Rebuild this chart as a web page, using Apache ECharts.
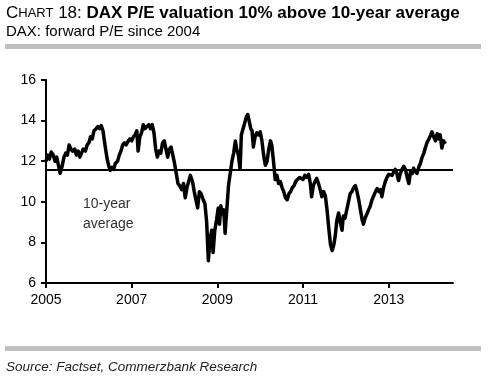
<!DOCTYPE html>
<html>
<head>
<meta charset="utf-8">
<script src="https://cdn.jsdelivr.net/npm/echarts@6/dist/echarts.min.js"></script>
<style>
  html, body { margin: 0; padding: 0; background: #fff; }
  #main { width: 488px; height: 376px; }
</style>
</head>
<body>
<div id="main"></div>
<script>
// decimal years and forward P/E
var years = [
  2005.00, 2005.04, 2005.08, 2005.12, 2005.17, 2005.21, 2005.25, 2005.29, 2005.33, 2005.37,
  2005.42, 2005.46, 2005.50, 2005.54, 2005.58, 2005.62, 2005.67, 2005.71, 2005.75, 2005.79,
  2005.83, 2005.87, 2005.92, 2005.96, 2006.00, 2006.04, 2006.08, 2006.12, 2006.17, 2006.21,
  2006.25, 2006.29, 2006.33, 2006.37, 2006.42, 2006.46, 2006.50, 2006.54, 2006.58, 2006.62,
  2006.67, 2006.71, 2006.75, 2006.79, 2006.83, 2006.87, 2006.92, 2006.96, 2007.00, 2007.04,
  2007.08, 2007.12, 2007.15, 2007.19, 2007.23, 2007.27, 2007.31, 2007.35, 2007.40, 2007.44,
  2007.48, 2007.52, 2007.56, 2007.60, 2007.64, 2007.68, 2007.72, 2007.76, 2007.80, 2007.84,
  2007.88, 2007.92, 2007.96, 2008.00, 2008.04, 2008.08, 2008.12, 2008.17, 2008.21, 2008.25,
  2008.29, 2008.33, 2008.37, 2008.42, 2008.46, 2008.50, 2008.54, 2008.58, 2008.62, 2008.67,
  2008.71, 2008.75, 2008.79, 2008.83, 2008.87, 2008.90, 2008.94, 2008.98, 2009.02, 2009.05,
  2009.08, 2009.12, 2009.15, 2009.18, 2009.22, 2009.26, 2009.30, 2009.34, 2009.38, 2009.42,
  2009.45, 2009.49, 2009.53, 2009.56, 2009.60, 2009.64, 2009.68, 2009.71, 2009.74, 2009.78,
  2009.81, 2009.84, 2009.88, 2009.92, 2009.96, 2010.00, 2010.04, 2010.08, 2010.12, 2010.16,
  2010.20, 2010.24, 2010.27, 2010.31, 2010.35, 2010.39, 2010.43, 2010.47, 2010.51, 2010.55,
  2010.59, 2010.63, 2010.67, 2010.71, 2010.75, 2010.79, 2010.83, 2010.87, 2010.92, 2010.96,
  2011.00, 2011.04, 2011.08, 2011.13, 2011.17, 2011.20, 2011.24, 2011.28, 2011.32, 2011.36,
  2011.40, 2011.44, 2011.48, 2011.52, 2011.56, 2011.60, 2011.64, 2011.68, 2011.72, 2011.75,
  2011.79, 2011.83, 2011.87, 2011.91, 2011.94, 2011.98, 2012.02, 2012.06, 2012.10, 2012.14,
  2012.18, 2012.22, 2012.26, 2012.30, 2012.34, 2012.38, 2012.41, 2012.45, 2012.49, 2012.53,
  2012.57, 2012.61, 2012.65, 2012.69, 2012.73, 2012.77, 2012.81, 2012.84, 2012.88, 2012.92,
  2012.96, 2013.00, 2013.04, 2013.08, 2013.12, 2013.15, 2013.19, 2013.23, 2013.27, 2013.31,
  2013.35, 2013.39, 2013.43, 2013.47, 2013.51, 2013.55, 2013.58, 2013.62, 2013.66, 2013.70,
  2013.74, 2013.78, 2013.82, 2013.86, 2013.90, 2013.94, 2013.98, 2014.01, 2014.05, 2014.09,
  2014.13, 2014.16, 2014.20, 2014.24, 2014.28, 2014.32
];
var pe = [
  12.0, 12.3, 12.1, 12.45, 12.3, 12.0, 12.2, 11.8, 11.4, 11.7,
  12.2, 12.4, 12.3, 12.8, 12.6, 12.5, 12.6, 12.3, 12.5, 12.2,
  12.4, 12.6, 12.5, 12.8, 12.9, 13.2, 13.1, 13.5, 13.6, 13.7,
  13.6, 13.75, 13.5, 12.9, 12.2, 11.8, 11.55, 11.7, 11.6, 11.9,
  12.0, 12.3, 12.5, 12.8, 12.9, 12.8, 13.0, 13.1, 13.0, 13.2,
  13.3, 13.5, 12.5, 13.2, 13.4, 13.8, 13.6, 13.7, 13.8, 13.6,
  13.8, 13.4, 12.6, 12.2, 12.5, 12.4, 12.9, 13.0, 12.6, 12.2,
  12.6, 12.7, 12.3, 11.9, 11.4, 10.9, 10.8, 10.6, 10.9, 10.2,
  10.7, 11.0, 11.3, 11.0, 10.5, 10.1, 9.7, 10.5, 10.4, 10.1,
  9.9, 9.0, 7.1, 8.2, 8.6, 7.5, 8.6, 9.1, 9.7, 8.9,
  9.8, 9.4, 9.6, 8.45, 9.6, 10.8, 11.4, 12.0, 12.4, 13.0,
  12.6, 12.3, 11.6, 13.3, 13.6, 13.9, 14.2, 14.3, 14.0, 13.6,
  13.5, 12.7, 13.2, 13.4, 13.3, 13.45, 13.0, 12.3, 11.8, 12.0,
  12.6, 13.0, 12.8, 12.0, 11.1, 11.3, 10.9, 11.0, 10.7, 10.5,
  10.2, 10.1, 10.4, 10.5, 10.7, 10.8, 11.0, 11.1, 11.2, 11.25,
  11.1, 11.3, 11.2, 11.35, 10.9, 10.25, 10.8, 11.0, 11.15, 10.9,
  10.6, 10.25, 10.5, 10.3, 9.6, 8.7, 7.9, 7.6, 7.9, 8.3,
  9.1, 9.45, 9.0, 8.6, 9.3, 9.2, 9.6, 10.0, 10.4, 10.5,
  10.7, 10.8, 10.5, 10.1, 9.6, 9.1, 8.9, 9.2, 9.4, 9.6,
  9.8, 10.1, 10.3, 10.5, 10.65, 10.5, 10.6, 10.25, 10.7, 11.0,
  11.2, 11.35, 11.4, 11.3, 11.5, 11.6, 11.4, 11.05, 11.4, 11.6,
  11.75, 11.6, 11.2, 10.9, 11.5, 11.4, 11.65, 11.5, 11.4, 11.7,
  11.9, 12.2, 12.4, 12.7, 12.95, 13.1, 13.3, 13.45, 13.2, 13.0,
  13.35, 13.1, 13.3, 12.65, 13.0, 12.85
];
var tenYearAvg = 11.6;
var xTicks = [2005, 2007, 2009, 2011, 2013];

var chart = echarts.init(document.getElementById('main'), null, { renderer: 'canvas' });

var font = 'Arial, "Liberation Sans", sans-serif';

var option = {
  animation: false,
  textStyle: { fontFamily: font },
  title: [{
    left: 6,
    top: 5,
    padding: 0,
    text: '{c|C}{s|HART}{c| 18: }{b|DAX P/E valuation 10% above 10-year average}',
    textStyle: {
      rich: {
        c: { fontSize: 17, fontWeight: 'normal', color: '#000', fontFamily: font },
        s: { fontSize: 13, fontWeight: 'normal', color: '#000', fontFamily: font },
        b: { fontSize: 17, fontWeight: 'bold', color: '#000', fontFamily: font }
      }
    }
  }, {
    left: 6,
    top: 24,
    padding: 0,
    text: 'DAX: forward P/E since 2004',
    textStyle: { fontSize: 15, fontWeight: 'normal', color: '#000', fontFamily: font }
  }, {
    left: 6,
    top: 360,
    padding: 0,
    text: 'Source: Factset, Commerzbank Research',
    textStyle: { fontSize: 13.5, fontStyle: 'italic', fontWeight: 'normal', color: '#222', fontFamily: font }
  }],
  graphic: [
    { type: 'rect', left: 5, top: 44, shape: { width: 476, height: 5 }, style: { fill: '#bfbfbf' } },
    { type: 'rect', left: 5, top: 346, shape: { width: 476, height: 5 }, style: { fill: '#bfbfbf' } },
    {
      type: 'text', left: 83, top: 194,
      style: { text: '10-year\naverage', fontSize: 14, lineHeight: 20, fill: '#333', fontFamily: font, textAlign: 'left' }
    }
  ],
  grid: { left: 46, right: 35, top: 80, bottom: 93 },
  xAxis: {
    type: 'value',
    min: 2005,
    max: 2014.5,
    splitLine: { show: false },
    axisLine: { lineStyle: { color: '#000', width: 2 } },
    axisTick: { show: true, length: 5, lineStyle: { color: '#000', width: 2 }, customValues: xTicks },
    axisLabel: { color: '#000', fontSize: 14, margin: 10, customValues: xTicks, formatter: function (v) { return String(v); } }
  },
  yAxis: {
    type: 'value',
    min: 6,
    max: 16,
    interval: 2,
    splitLine: { show: false },
    axisLine: { show: true, lineStyle: { color: '#000', width: 2 } },
    axisTick: { show: true, length: 5, lineStyle: { color: '#000', width: 2 } },
    axisLabel: { color: '#000', fontSize: 14, margin: 10 }
  },
  series: [{
    type: 'line',
    data: years.map(function (y, i) { return [y, pe[i]]; }),
    showSymbol: false,
    lineStyle: { color: '#000', width: 3.5, join: 'round' },
    markLine: {
      silent: true,
      symbol: 'none',
      label: { show: false },
      lineStyle: { color: '#000', width: 2, type: 'solid' },
      data: [{ yAxis: tenYearAvg }]
    }
  }]
};

chart.setOption(option);
</script>
</body>
</html>
